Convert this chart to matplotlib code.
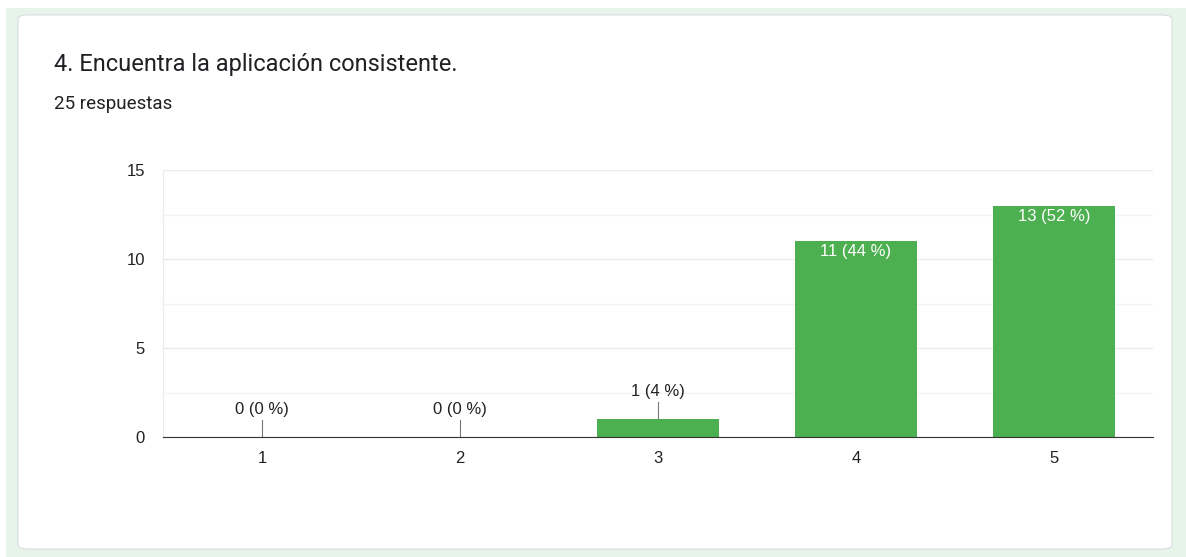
import matplotlib
matplotlib.use("Agg")
import matplotlib.pyplot as plt
from matplotlib.patches import FancyBboxPatch, Rectangle

# survey answers (scale 1-5)
categories = ["1", "2", "3", "4", "5"]
counts = [0, 0, 1, 11, 13]
total = 25
title = "4. Encuentra la aplicación consistente."
subtitle = "25 respuestas"

W, H = 1186, 557
fig = plt.figure(figsize=(W / 100, H / 100), dpi=100)
fig.patch.set_facecolor("white")

# page background + card
fig.patches.append(Rectangle((6 / W, 0), 1 - 6 / W, 1 - 8 / H, transform=fig.transFigure,
                             facecolor="#e6f4ea", edgecolor="none", zorder=-2))
fig.patches.append(FancyBboxPatch((18 / W, 8 / H), (1172 - 18) / W, (542 - 8) / H,
                                  boxstyle="round,pad=0,rounding_size=0.008",
                                  transform=fig.transFigure, facecolor="white",
                                  edgecolor="#dadce0", linewidth=0.8, zorder=-1))

fig.text(54 / W, 1 - 64 / H, title, fontsize=17, family="Roboto", color="#202124",
         va="center", ha="left")
fig.text(54 / W, 1 - 104 / H, subtitle, fontsize=13.5, family="Roboto", color="#202124",
         va="center", ha="left")

left, right, top, bottom = 163, 1153, 170, 437
ax = fig.add_axes([left / W, 1 - bottom / H, (right - left) / W, (bottom - top) / H])
ax.set_facecolor("none")

x = list(range(1, len(categories) + 1))
ax.bar(x, counts, width=0.615, color="#4caf50", zorder=3)

ax.set_xlim(0.5, 5.5)
ax.set_ylim(0, 15)
ax.set_yticks([0, 5, 10, 15])
ax.set_yticks([2.5, 7.5, 12.5], minor=True)
ax.set_xticks(x)
ax.set_xticklabels(categories)
ax.grid(axis="y", which="major", color="#ebebeb", linewidth=1, zorder=0)
ax.grid(axis="y", which="minor", color="#f3f3f3", linewidth=1, zorder=0)
ax.tick_params(axis="both", which="both", length=0, labelsize=12, colors="#222222")
for lbl in ax.get_xticklabels() + ax.get_yticklabels():
    lbl.set_family("Liberation Sans")
ax.tick_params(axis="x", pad=10)
ax.tick_params(axis="y", pad=13)
for side in ["top", "right"]:
    ax.spines[side].set_visible(False)
ax.spines["left"].set_color("#ebebeb")
ax.spines["bottom"].set_color("#333333")
ax.spines["bottom"].set_zorder(4)

# value labels
for xi, c in zip(x, counts):
    text = f"{c} ({round(c / total * 100)} %)"
    if c < 3:
        ax.plot([xi, xi], [c, c + 0.95], color="#777777", linewidth=0.8, zorder=4)
        ax.text(xi, c + 1.55, text, ha="center", va="center", fontsize=12,
                family="Liberation Sans", color="#222222", zorder=5)
    else:
        ax.text(xi, c - 0.6, text, ha="center", va="center", fontsize=12,
                family="Liberation Sans", color="white", zorder=5)

fig.savefig("out.png", dpi=100, facecolor=fig.get_facecolor())
